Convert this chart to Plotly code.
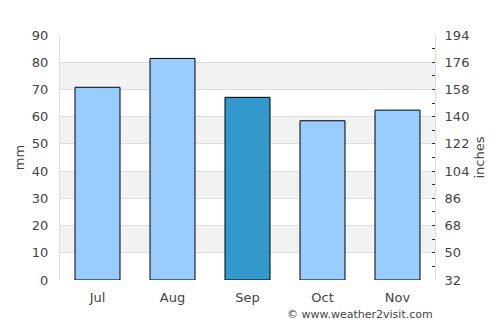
import plotly.graph_objects as go

months = ["Jul", "Aug", "Sep", "Oct", "Nov"]
rain_mm = [70.8, 81.4, 67.1, 58.5, 62.4]
bar_colors = ["#99ccff", "#99ccff", "#3399cc", "#99ccff", "#99ccff"]
left_ticks = [0, 10, 20, 30, 40, 50, 60, 70, 80, 90]
right_ticks = [32, 50, 68, 86, 104, 122, 140, 158, 176, 194]
right_tick_marks = [41, 50, 59, 68, 77, 86, 95, 104, 113, 122, 131, 140, 149, 158, 167, 176, 185]
band_ranges = [(10, 20), (30, 40), (50, 60), (70, 80)]

fig = go.Figure()
fig.add_trace(go.Bar(
    x=months, y=rain_mm, width=0.6,
    marker=dict(color=bar_colors, line=dict(color="black", width=1)),
    hoverinfo="skip",
))
fig.add_trace(go.Scatter(x=months, y=[None]*5, yaxis="y2", showlegend=False, hoverinfo="skip"))
fig.add_trace(go.Scatter(x=months, y=[None]*5, yaxis="y3", showlegend=False, hoverinfo="skip"))

for lo, hi in band_ranges:
    fig.add_shape(type="rect", xref="paper", yref="y", x0=0, x1=1, y0=lo, y1=hi,
                  fillcolor="#f2f2f2", line=dict(width=0), layer="below")

font = dict(family="DejaVu Sans", size=13, color="#444")
fig.update_layout(
    width=500, height=325,
    margin=dict(l=60, r=65, t=35, b=45),
    paper_bgcolor="white", plot_bgcolor="white",
    showlegend=False, bargap=0.4,
    font=font,
    xaxis=dict(showgrid=False, showline=False, ticks="", tickfont=font, ticklabelstandoff=8),
    yaxis=dict(range=[0, 90], tickvals=left_ticks, showgrid=True, gridcolor="#dddddd",
               gridwidth=1, zeroline=False, showline=True, linecolor="#dddddd",
               title=dict(text="mm", font=font, standoff=4), ticks="", tickfont=font,
               ticklabelstandoff=8),
    yaxis2=dict(range=[32, 194], tickvals=right_ticks, overlaying="y", side="right",
                showgrid=False, zeroline=False, showline=True, linecolor="#dddddd",
                ticks="", title=dict(text="inches", font=font, standoff=6), tickfont=font,
                ticklabelstandoff=6),
    yaxis3=dict(range=[32, 194], tickvals=right_tick_marks, overlaying="y", side="right",
                showgrid=False, zeroline=False, showline=False, showticklabels=False,
                ticks="inside", ticklen=3, tickcolor="#333", tickwidth=1),
)
fig.add_annotation(text="© www.weather2visit.com", xref="paper", yref="paper",
                   x=1.0, y=-0.105, xanchor="right", yanchor="top", showarrow=False,
                   font=dict(family="DejaVu Sans", size=11, color="#444"))

fig.write_html("out.html")
